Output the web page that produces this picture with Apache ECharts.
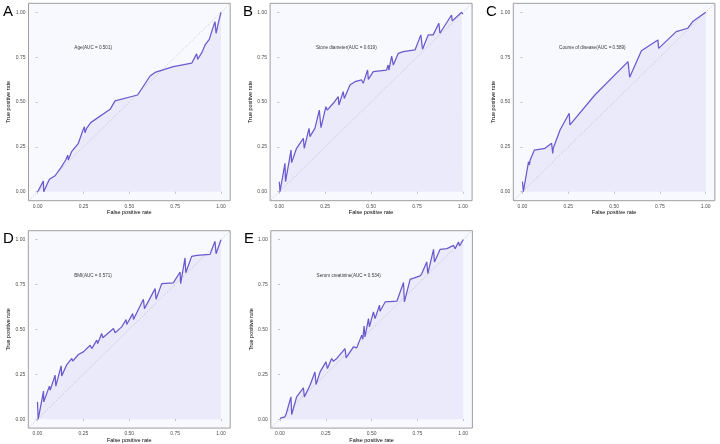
<!DOCTYPE html>
<html><head><meta charset="utf-8">
<script src="https://cdn.jsdelivr.net/npm/echarts@6/dist/echarts.min.js"></script>
<style>html,body{margin:0;padding:0;background:#fff}#c{width:720px;height:444px}</style>
</head><body><div id="c"></div>
<script>
const panelLetters = ['A', 'B', 'C', 'D', 'E'];
const aucLabels = ['Age(AUC = 0.501)', 'Stone diameter(AUC = 0.619)', 'Course of disease(AUC = 0.589)', 'BMI(AUC = 0.571)', 'Serum creatinine(AUC = 0.534)'];
const tickValues = [0, 0.25, 0.5, 0.75, 1];
const xAxisTitle = 'False positive rate';
const yAxisTitle = 'True positive rate';

const ageFPR = [0, 0.031, 0.033, 0.064, 0.095, 0.127, 0.153, 0.164, 0.167, 0.185, 0.222, 0.244, 0.255, 0.258, 0.267, 0.289, 0.395, 0.422, 0.545, 0.613, 0.640, 0.740, 0.840, 0.867, 0.873, 0.895, 0.913, 0.936, 0.949, 0.967, 0.973, 0.985, 1.0];
const ageTPR = [0, 0.059, 0.0, 0.069, 0.089, 0.134, 0.177, 0.204, 0.177, 0.223, 0.270, 0.335, 0.362, 0.329, 0.353, 0.385, 0.459, 0.506, 0.539, 0.645, 0.665, 0.697, 0.716, 0.768, 0.738, 0.775, 0.818, 0.849, 0.892, 0.948, 0.883, 0.939, 1.0];

const stoneFPR = [0, 0.004, 0.031, 0.034, 0.064, 0.067, 0.094, 0.131, 0.136, 0.162, 0.167, 0.194, 0.218, 0.227, 0.254, 0.261, 0.294, 0.321, 0.325, 0.348, 0.354, 0.385, 0.412, 0.448, 0.457, 0.481, 0.485, 0.512, 0.584, 0.593, 0.597, 0.612, 0.621, 0.648, 0.675, 0.739, 0.771, 0.780, 0.811, 0.838, 0.869, 0.875, 0.938, 0.942, 0.993, 1.0];
const stoneTPR = [0.056, 0, 0.158, 0.056, 0.232, 0.162, 0.242, 0.297, 0.242, 0.353, 0.307, 0.353, 0.455, 0.357, 0.474, 0.455, 0.493, 0.530, 0.483, 0.558, 0.520, 0.595, 0.613, 0.623, 0.604, 0.678, 0.626, 0.669, 0.678, 0.706, 0.678, 0.756, 0.706, 0.771, 0.781, 0.790, 0.874, 0.794, 0.874, 0.874, 0.939, 0.883, 0.985, 0.952, 1.0, 0.989];

const courseFPR = [0, 0.005, 0.033, 0.038, 0.042, 0.065, 0.123, 0.159, 0.165, 0.168, 0.205, 0.255, 0.259, 0.395, 0.576, 0.585, 0.649, 0.739, 0.743, 0.839, 0.902, 0.911, 0.929, 1.0];
const courseTPR = [0.056, 0, 0.167, 0.149, 0.177, 0.232, 0.242, 0.270, 0.214, 0.242, 0.344, 0.437, 0.372, 0.539, 0.725, 0.638, 0.786, 0.846, 0.799, 0.892, 0.911, 0.901, 0.948, 1.0];

const bmiFPR = [0, 0.004, 0.033, 0.034, 0.065, 0.069, 0.096, 0.100, 0.129, 0.132, 0.160, 0.187, 0.192, 0.223, 0.250, 0.260, 0.287, 0.296, 0.323, 0.328, 0.350, 0.356, 0.414, 0.423, 0.459, 0.483, 0.486, 0.519, 0.523, 0.577, 0.583, 0.641, 0.646, 0.677, 0.740, 0.777, 0.780, 0.804, 0.808, 0.840, 0.868, 0.877, 0.940, 0.967, 0.973, 1.0];
const bmiTPR = [0.096, 0, 0.156, 0.096, 0.184, 0.161, 0.245, 0.184, 0.297, 0.241, 0.304, 0.338, 0.323, 0.360, 0.375, 0.365, 0.412, 0.393, 0.440, 0.421, 0.477, 0.453, 0.505, 0.481, 0.514, 0.555, 0.527, 0.588, 0.555, 0.668, 0.616, 0.727, 0.668, 0.755, 0.759, 0.820, 0.755, 0.898, 0.816, 0.907, 0.913, 0.905, 0.918, 0.991, 0.922, 1.0];

const creatFPR = [0, 0.027, 0.033, 0.036, 0.060, 0.064, 0.091, 0.128, 0.133, 0.164, 0.191, 0.197, 0.219, 0.251, 0.259, 0.282, 0.291, 0.310, 0.355, 0.361, 0.401, 0.419, 0.446, 0.452, 0.459, 0.464, 0.483, 0.488, 0.510, 0.519, 0.543, 0.546, 0.574, 0.583, 0.638, 0.674, 0.679, 0.710, 0.765, 0.774, 0.801, 0.807, 0.838, 0.843, 0.874, 0.911, 0.947, 0.956, 0.974, 0.980, 1.0];
const creatTPR = [0.004, 0.013, 0.026, 0.019, 0.124, 0.026, 0.124, 0.174, 0.124, 0.189, 0.263, 0.193, 0.263, 0.319, 0.282, 0.338, 0.323, 0.338, 0.393, 0.341, 0.403, 0.397, 0.468, 0.445, 0.519, 0.458, 0.560, 0.514, 0.597, 0.560, 0.635, 0.601, 0.653, 0.649, 0.657, 0.761, 0.653, 0.779, 0.798, 0.811, 0.876, 0.811, 0.946, 0.876, 0.946, 0.950, 0.968, 0.950, 0.987, 0.965, 1.0];

const curves = [[ageFPR, ageTPR], [stoneFPR, stoneTPR], [courseFPR, courseTPR], [bmiFPR, bmiTPR], [creatFPR, creatTPR]];

// panel placement (pixels): left, top, width, height of the plot frame
const frames = [
  [28.5, 3.3, 201.7, 197.4],
  [270.1, 3.3, 202.0, 197.4],
  [513.3, 3.3, 201.6, 197.4],
  [28.3, 230.7, 201.9, 197.6],
  [270.8, 230.7, 201.6, 197.6]
];
const letterPos = [[3, 4], [243, 4], [486, 4], [3, 231], [244, 231]];

const grids = [], xAxes = [], yAxes = [], series = [], graphics = [];
frames.forEach((f, i) => {
  grids.push({ left: f[0], top: f[1], width: f[2], height: f[3], show: true,
    backgroundColor: '#F8F8FF', borderColor: '#9e9e9e', borderWidth: 1, containLabel: false });
  const common = {
    type: 'value', gridIndex: i, min: -0.05, max: 1.05,
    axisLine: { show: false }, splitLine: { show: false },
    axisTick: { show: true, length: 2, customValues: tickValues, lineStyle: { color: '#888', width: 0.5 } },
    axisLabel: { customValues: tickValues, formatter: v => v.toFixed(2), fontSize: 5, color: '#4d4d4d', margin: 3,
      fontFamily: 'Liberation Sans, Arial, sans-serif' },
    nameLocation: 'middle',
    nameTextStyle: { fontSize: 5.5, color: '#000', fontFamily: 'Liberation Sans, Arial, sans-serif' }
  };
  xAxes.push(Object.assign({}, common, { name: xAxisTitle, nameGap: 8 }));
  yAxes.push(Object.assign({}, common, { name: yAxisTitle, nameGap: 14, nameRotate: 90 }));
  series.push({
    type: 'line', xAxisIndex: i, yAxisIndex: i, data: [[-0.2, -0.2], [1.2, 1.2]],
    symbol: 'none', silent: true, z: 1,
    lineStyle: { color: '#aaaaaa', width: 0.6, type: [1, 1.5] }
  });
  const [fx, fy] = curves[i];
  series.push({
    type: 'line', xAxisIndex: i, yAxisIndex: i, data: fx.map((x, k) => [x, fy[k]]),
    symbol: 'none', silent: true, z: 2,
    lineStyle: { color: '#6A5ACD', width: 1.25 },
    areaStyle: { color: 'rgba(106,90,205,0.12)', origin: 0 }
  });
  series.push({
    type: 'scatter', xAxisIndex: i, yAxisIndex: i, data: [[0.2, 0.8]],
    symbolSize: 0.01, silent: true, z: 3,
    label: { show: true, position: 'right', distance: 0, formatter: aucLabels[i], fontSize: 4.6,
      color: '#000', fontFamily: 'Liberation Sans, Arial, sans-serif' }
  });
  graphics.push({ type: 'text', left: letterPos[i][0], top: letterPos[i][1],
    style: { text: panelLetters[i], fontSize: 15, fill: '#000', fontFamily: 'Liberation Sans, Arial, sans-serif' } });
});

const chart = echarts.init(document.getElementById('c'), null, { renderer: 'canvas' });
chart.setOption({
  animation: false,
  backgroundColor: '#fff',
  grid: grids, xAxis: xAxes, yAxis: yAxes, series: series, graphic: graphics
});
</script></body></html>
